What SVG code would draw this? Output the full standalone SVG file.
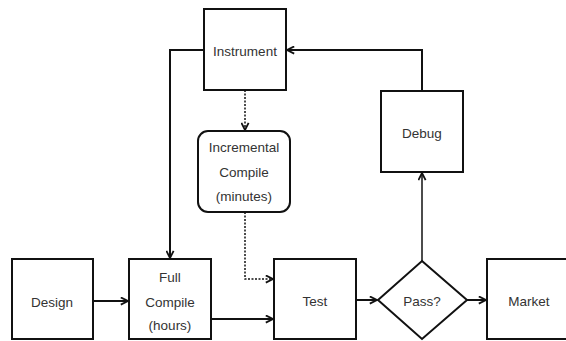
<svg xmlns="http://www.w3.org/2000/svg" width="566" height="341" viewBox="0 0 566 341">
<style>
.box{fill:#fff;stroke:#111;stroke-width:2}
.lbl{font-family:"Liberation Sans",Arial,sans-serif;font-size:13.5px;fill:#333;text-anchor:middle;dominant-baseline:central}
.con{fill:none;stroke:#111;stroke-width:2}
.thin{fill:none;stroke:#111;stroke-width:1.5}
.dot{fill:none;stroke:#111;stroke-width:1.5;stroke-dasharray:2 1.5}
</style>
<defs>
<marker id="ah" viewBox="0 0 10 10" refX="9" refY="5" markerWidth="9" markerHeight="9" markerUnits="userSpaceOnUse" orient="auto">
<path d="M1,1 L9,5 L1,9" fill="none" stroke="#111" stroke-width="2"/>
</marker>
</defs>
<rect width="566" height="341" fill="#fff"/>
<g id="connectors">
<path class="con" d="M93,301 H128" marker-end="url(#ah)"/>
<path class="con" d="M211,319 H273" marker-end="url(#ah)"/>
<path class="con" d="M204,50 H170 V258" marker-end="url(#ah)"/>
<path class="con" d="M422,91 V50 H287" marker-end="url(#ah)"/>
<path class="thin" d="M422,261 V173" marker-end="url(#ah)"/>
<path class="dot" d="M245,90 V130" marker-end="url(#ah)"/>
<path class="dot" d="M245,212 V279 H273" marker-end="url(#ah)"/>
<path class="con" d="M356,300 H377" marker-end="url(#ah)"/>
<path class="con" d="M467,300 H486" marker-end="url(#ah)"/>
</g>
<g id="instrument">
<rect class="box" x="204" y="9" width="82" height="81"/>
<text class="lbl" x="245" y="51">Instrument</text>
</g>
<g id="debug">
<rect class="box" x="381" y="91" width="82" height="81"/>
<text class="lbl" x="422" y="133">Debug</text>
</g>
<g id="incremental">
<rect class="box" x="198" y="131" width="92" height="81" rx="10"/>
<text class="lbl" x="244" y="147">Incremental</text>
<text class="lbl" x="244" y="172">Compile</text>
<text class="lbl" x="244" y="196">(minutes)</text>
</g>
<g id="design">
<rect class="box" x="12" y="259" width="81" height="80"/>
<text class="lbl" x="52" y="302">Design</text>
</g>
<g id="fullcompile">
<rect class="box" x="129" y="259" width="82" height="80"/>
<text class="lbl" x="170" y="277">Full</text>
<text class="lbl" x="170" y="302">Compile</text>
<text class="lbl" x="170" y="325">(hours)</text>
</g>
<g id="test">
<rect class="box" x="274" y="259" width="82" height="80"/>
<text class="lbl" x="315" y="301">Test</text>
</g>
<g id="pass">
<polygon class="box" points="422,261 467,300 422,339 378,300"/>
<text class="lbl" x="422" y="301">Pass?</text>
</g>
<g id="market">
<rect class="box" x="487" y="259" width="85" height="80"/>
<text class="lbl" x="529" y="301">Market</text>
</g>
</svg>
